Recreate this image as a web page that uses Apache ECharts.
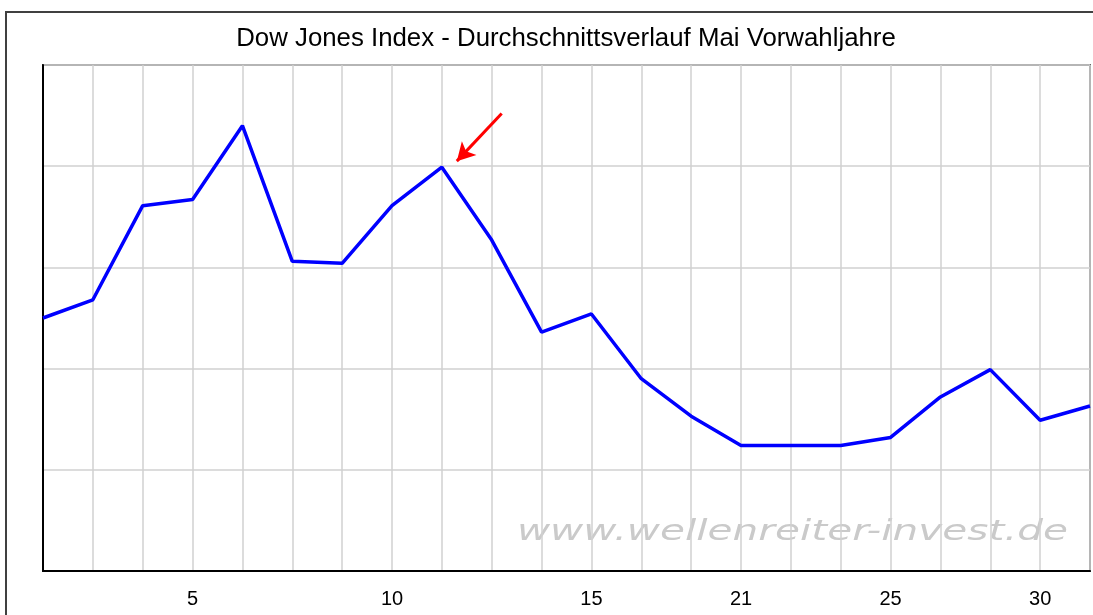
<!DOCTYPE html>
<html>
<head>
<meta charset="utf-8">
<title>Dow Jones Index - Durchschnittsverlauf Mai Vorwahljahre</title>
<script src="https://cdn.jsdelivr.net/npm/echarts@6/dist/echarts.min.js"></script>
<style>
    html, body { margin: 0; padding: 0; background: #fff; }
    #chart { width: 1093px; height: 615px; }
</style>
</head>
<body>
<div id="chart"></div>
<script>
// Handelstage im Mai (nur einige werden beschriftet)
const days = ['1', '2', '4', '5', '6', '8', '9', '10', '11', '12', '14', '15', '16', '18', '21', '22', '23', '25', '26', '29', '30', '31']
const labelledDays = ['5', '10', '15', '21', '25', '30']
// Durchschnittsverlauf (Skala ohne Beschriftung, 0..5)
const avgPath = [2.50, 2.68, 3.61, 3.67, 4.40, 3.06, 3.04, 3.61, 3.99, 3.27, 2.36, 2.54, 1.90, 1.53, 1.24, 1.24, 1.24, 1.32, 1.72, 1.99, 1.49, 1.63]
// roter Pfeil: von / nach (Index, Wert)
const arrowFrom = [9.2, 4.52]
const arrowTo = [8.3, 4.05]

const chart = echarts.init(document.getElementById('chart'))

const option = {
    backgroundColor: '#fff',
    animation: false,
    title: {
        text: 'Dow Jones Index - Durchschnittsverlauf Mai Vorwahljahre',
        left: 561,
        top: 21,
        textAlign: 'center',
        textStyle: {
            fontFamily: 'Liberation Sans',
            fontSize: 25.8,
            fontWeight: 'normal',
            color: '#000'
        }
    },
    grid: {
        left: 43,
        right: 2,
        top: 65,
        bottom: 44,
        show: true,
        borderColor: '#666',
        borderWidth: 2
    },
    graphic: [
        {
            type: 'rect',
            z: -10,
            shape: { x: 6, y: 12, width: 1200, height: 700 },
            style: { fill: 'none', stroke: '#404040', lineWidth: 2 }
        },
        {
            type: 'text',
            right: 25,
            top: 519,
            scaleX: 1.45,
            originX: 1068,
            style: {
                text: 'www.wellenreiter-invest.de',
                font: 'oblique 28px "DejaVu Sans"',
                fill: '#cacaca'
            }
        }
    ],
    xAxis: {
        type: 'value',
        min: 0,
        max: days.length - 1,
        interval: 1,
        axisLine: { show: true, lineStyle: { color: '#000', width: 2 } },
        axisTick: { show: false },
        axisLabel: {
            margin: 18,
            fontFamily: 'Liberation Sans',
            fontSize: 20,
            color: '#000',
            showMinLabel: true,
            showMaxLabel: true,
            formatter: (val) => {
                const d = days[Math.round(val)]
                return labelledDays.indexOf(d) >= 0 ? d : ''
            }
        },
        splitLine: { show: true, lineStyle: { color: '#d0d0d0', width: 1.5 } }
    },
    yAxis: {
        type: 'value',
        min: 0,
        max: 5,
        interval: 1,
        axisLine: { show: true, lineStyle: { color: '#000', width: 2 } },
        axisTick: { show: false },
        axisLabel: { show: false },
        splitLine: { show: true, lineStyle: { color: '#d0d0d0', width: 1.5 } }
    },
    series: [
        {
            type: 'line',
            data: avgPath.map((v, i) => [i, v]),
            symbol: 'none',
            lineStyle: { color: '#0000ff', width: 3.5 },
            markLine: {
                silent: true,
                symbol: ['none', 'arrow'],
                symbolSize: [15, 18],
                label: { show: false },
                lineStyle: { color: '#ff0000', width: 3, type: 'solid' },
                data: [[{ coord: arrowFrom }, { coord: arrowTo }]]
            }
        }
    ]
}

chart.setOption(option)
</script>
</body>
</html>
